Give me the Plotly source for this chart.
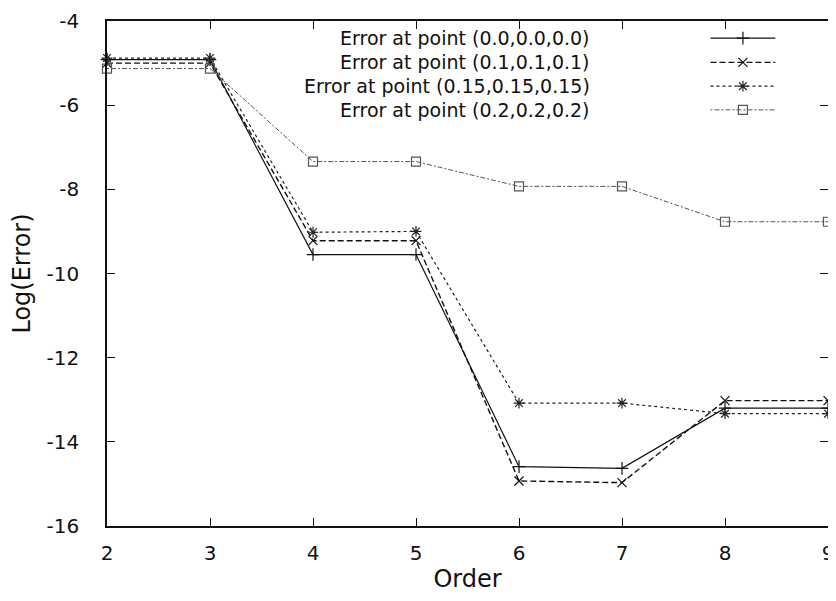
import plotly.graph_objects as go

orders = [2, 3, 4, 5, 6, 7, 8, 9]
err_000 = [-4.92, -4.92, -9.55, -9.55, -14.59, -14.63, -13.2, -13.2]
err_010 = [-5.0, -5.0, -9.22, -9.22, -14.93, -14.97, -13.02, -13.02]
err_015 = [-4.88, -4.88, -9.02, -9.0, -13.08, -13.08, -13.33, -13.33]
err_020 = [-5.13, -5.13, -7.34, -7.34, -7.93, -7.93, -8.77, -8.77]

series_names = [
    "Error at point (0.0,0.0,0.0)",
    "Error at point (0.1,0.1,0.1)",
    "Error at point (0.15,0.15,0.15)",
    "Error at point (0.2,0.2,0.2)",
]
y_ticks = [-4, -6, -8, -10, -12, -14, -16]
x_ticks = [2, 3, 4, 5, 6, 7, 8, 9]

styles = [
    dict(color="#111111", dash="solid", symbol="cross-thin-open", width=1.2),
    dict(color="#111111", dash="6px,3px", symbol="x-thin-open", width=1.4),
    dict(color="#222222", dash="3px,3px", symbol="asterisk-open", width=1.2),
    dict(color="#555555", dash="2px,2px,5px,2px", symbol="square-open", width=1.0),
]

FONT = "DejaVu Sans, Verdana, sans-serif"

fig = go.Figure()
for name, vals, st in zip(series_names, [err_000, err_010, err_015, err_020], styles):
    fig.add_trace(go.Scatter(
        x=orders, y=vals, mode="lines+markers", name=name, showlegend=False,
        line=dict(color=st["color"], dash=st["dash"], width=st["width"]),
        marker=dict(symbol=st["symbol"], size=9, color=st["color"],
                    line=dict(color=st["color"], width=1.2)),
        cliponaxis=False,
    ))

# Manual legend (text on the left, line sample on the right, gnuplot style)
legend_rows = [0.966, 0.918, 0.871, 0.824]
for name, st, ry in zip(series_names, styles, legend_rows):
    fig.add_annotation(x=0.672, y=ry, xref="paper", yref="paper", text=name,
                       showarrow=False, xanchor="right", yanchor="middle",
                       font=dict(family=FONT, size=19, color="#111111"))
    fig.add_trace(go.Scatter(
        x=[0.837, 0.927], y=[ry, ry], xaxis="x2", yaxis="y2",
        mode="lines", showlegend=False, hoverinfo="skip",
        line=dict(color=st["color"], dash=st["dash"], width=st["width"]),
    ))
    fig.add_trace(go.Scatter(
        x=[0.882], y=[ry], xaxis="x2", yaxis="y2",
        mode="markers", showlegend=False, hoverinfo="skip",
        marker=dict(symbol=st["symbol"], size=9, color=st["color"],
                    line=dict(color=st["color"], width=1.2)),
    ))

fig.update_layout(
    width=828, height=585,
    margin=dict(l=99, r=8, t=13, b=67, autoexpand=False),
    paper_bgcolor="white", plot_bgcolor="white",
    font=dict(family=FONT, size=20, color="#111111"),
    xaxis=dict(range=[2, 9], tickvals=x_ticks, ticktext=[str(v) for v in x_ticks],
               ticks="inside", ticklen=8, tickcolor="#111111", showgrid=False,
               zeroline=False, showline=True, linecolor="#111111", linewidth=1.5,
               mirror="ticks", ticklabelstandoff=8, ticklabeloverflow="allow",
               automargin=False,
               title=dict(text="Order", standoff=20),
               tickfont=dict(size=20)),
    yaxis=dict(range=[-16, -4], tickvals=y_ticks, ticktext=[str(v) for v in y_ticks],
               ticks="inside", ticklen=8, tickcolor="#111111", showgrid=False,
               zeroline=False, showline=True, linecolor="#111111", linewidth=1.5,
               mirror="ticks", ticklabelstandoff=22, ticklabeloverflow="allow",
               automargin=False,
               title=dict(text="Log(Error)", standoff=10),
               tickfont=dict(size=20)),
    xaxis2=dict(range=[0, 1], overlaying="x", visible=False, fixedrange=True),
    yaxis2=dict(range=[0, 1], overlaying="y", visible=False, fixedrange=True),
)

fig.write_html("out.html")
